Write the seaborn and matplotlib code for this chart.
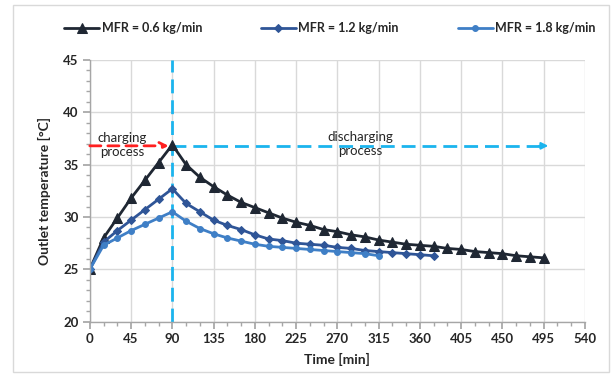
import matplotlib
matplotlib.use("Agg")
import matplotlib.pyplot as plt
import seaborn as sns
import pandas as pd
from matplotlib.patches import Rectangle

sns.set_theme(style="white")
plt.rcParams['font.family'] = ['Lato', 'DejaVu Sans']

# ---- data ----
time_06 = list(range(0, 496, 15))
temp_06 = [25.0, 28.0, 29.9, 31.8, 33.5, 35.2, 36.9, 35.0, 33.8, 32.9, 32.1, 31.4,
           30.9, 30.4, 29.9, 29.5, 29.2, 28.8, 28.6, 28.3, 28.1, 27.8, 27.6, 27.4,
           27.3, 27.2, 27.0, 26.9, 26.7, 26.6, 26.5, 26.3, 26.2, 26.1]
time_12 = list(range(0, 376, 15))
temp_12 = [25.0, 27.6, 28.7, 29.7, 30.7, 31.7, 32.7, 31.3, 30.5, 29.7, 29.2, 28.8,
           28.3, 27.9, 27.75, 27.5, 27.4, 27.3, 27.1, 27.0, 26.8, 26.7, 26.6, 26.5,
           26.4, 26.3]
time_18 = list(range(0, 316, 15))
temp_18 = [25.0, 27.3, 28.0, 28.7, 29.3, 29.9, 30.5, 29.6, 28.9, 28.4, 28.0, 27.7,
           27.4, 27.2, 27.1, 27.0, 26.9, 26.8, 26.7, 26.6, 26.5, 26.3]
labels = ["MFR = 0.6 kg/min", "MFR = 1.2 kg/min", "MFR = 1.8 kg/min"]
x_ticks = list(range(0, 541, 45))
y_ticks = list(range(20, 46, 5))

colors = ["#1f2733", "#2f5597", "#3f7fc6"]
markers = ["^", "D", "o"]
msizes = [6.5, 4.5, 4.2]

fig = plt.figure(figsize=(6.11, 3.77), dpi=100)
ax = fig.add_axes([89.8 / 611, 1 - 321.7 / 377, (585 - 89.8) / 611, (321.7 - 60) / 377])

series = [(time_06, temp_06), (time_12, temp_12), (time_18, temp_18)]
for (t, v), lab, c, m, ms in zip(series, labels, colors, markers, msizes):
    df = pd.DataFrame({"t": t, "v": v})
    sns.lineplot(data=df, x="t", y="v", ax=ax, color=c, marker=m, markersize=ms,
                 markeredgecolor=c, linewidth=2, label=lab, legend=False)

ax.set_xlim(0, 540)
ax.set_ylim(20, 45)
ax.set_xticks(x_ticks)
ax.set_yticks(y_ticks)
ax.set_xticks(range(0, 541, 15), minor=True)
ax.set_yticks(range(20, 46, 1), minor=True)
ax.grid(True, which='major', color="#d9d9d9", linewidth=1)
ax.set_axisbelow(True)
for s in ["top", "right"]:
    ax.spines[s].set_visible(False)
for s in ["left", "bottom"]:
    ax.spines[s].set_color("#a6a6a6")
    ax.spines[s].set_linewidth(1)
ax.tick_params(axis='both', which='both', direction='out', color="#a6a6a6",
               bottom=True, left=True)
ax.tick_params(which='major', length=5, labelsize=9.5, pad=3)
ax.tick_params(which='minor', length=3)
for lbl in ax.get_xticklabels() + ax.get_yticklabels():
    lbl.set_fontweight('bold')
    lbl.set_color("#262626")
ax.set_xlabel("Time [min]", fontsize=10, fontweight='bold', color="#262626", labelpad=6)
ax.set_ylabel("Outlet temperature [°C]", fontsize=10, fontweight='bold', color="#262626", labelpad=9)

# vertical dashed line at 90
cyan = "#1bb4ee"
ax.axvline(90, color=cyan, linestyle=(0, (5, 2.5)), linewidth=2, zorder=1)
# charging arrow (red)
ax.annotate("", xy=(86, 36.8), xytext=(0, 36.8),
            arrowprops=dict(arrowstyle="->", color="#ff2020", linestyle=(0, (4, 2.5)),
                            linewidth=2, shrinkA=0, shrinkB=0))
# discharging arrow (cyan)
ax.plot([90, 495], [36.8, 36.8], color=cyan, linestyle=(0, (5, 2.5)), linewidth=2, zorder=1)
ax.annotate("", xy=(500, 36.8), xytext=(490, 36.8),
            arrowprops=dict(arrowstyle="-|>", color=cyan, linewidth=1.5,
                            mutation_scale=10, shrinkA=0, shrinkB=0))
ax.text(35, 36.9, "charging\nprocess", ha='center', va='center', fontsize=9.5,
        color="#262626", linespacing=1.2)
ax.text(295, 37.0, "discharging\nprocess", ha='center', va='center', fontsize=9.5,
        color="#262626", linespacing=1.2)

# legend
handles, labs = ax.get_legend_handles_labels()
leg = fig.legend(handles, labs, loc='center', bbox_to_anchor=(0.540, 0.926), ncol=3,
                 frameon=False, handlelength=2.8, handletextpad=0.2,
                 columnspacing=4.7, prop={'weight': 'bold', 'size': 9})

# chart frame
fig.patches.append(Rectangle((13 / 611, 5 / 377), (609 - 13) / 611, (372 - 5) / 377,
                             transform=fig.transFigure, fill=False,
                             edgecolor="#d9d9d9", linewidth=1))

fig.savefig("out.png", dpi=100)
